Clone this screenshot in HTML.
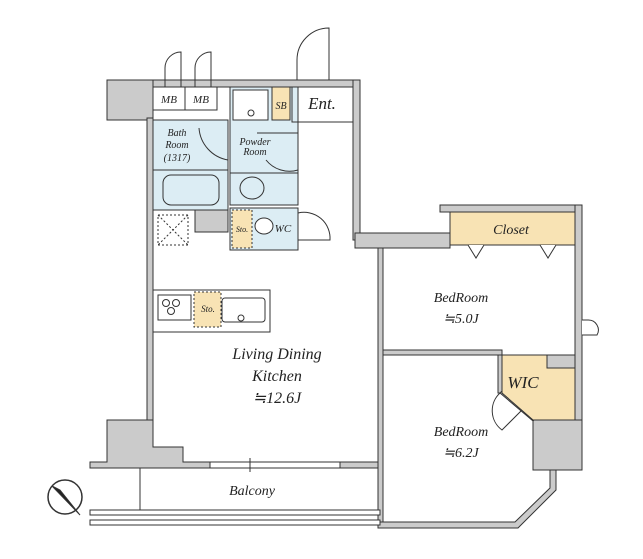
<!DOCTYPE html>
<html><head><style>body{margin:0;background:#fff}svg{display:block}text{font-family:"Liberation Serif",serif;font-style:italic;fill:#222}</style></head><body>
<svg width="643" height="559" viewBox="0 0 643 559" xmlns="http://www.w3.org/2000/svg">
<g stroke="#333" stroke-width="1" fill="#cbcbcb">
<rect x="107" y="80" width="46" height="40"/>
<rect x="153" y="80" width="207" height="7"/>
<rect x="353" y="80" width="7" height="160"/>
<rect x="147" y="118" width="6" height="302"/>
<path d="M107 420 H153 V447 H183 V462 H210 V468 H90 V462 H107 Z"/>
<rect x="340" y="462" width="40" height="6"/>
<rect x="355" y="233" width="95" height="15"/>
<rect x="440" y="205" width="142" height="7"/>
<rect x="575" y="205" width="7" height="215"/>
<rect x="533" y="420" width="49" height="50"/>
<rect x="547" y="355" width="28" height="13"/>
<rect x="195" y="210" width="33" height="22"/>
<rect x="378" y="248" width="5" height="280"/>
<rect x="383" y="350" width="119" height="5"/>
<rect x="498" y="355" width="4" height="38"/>
<path d="M550 470 H556 V490 L518 528 H378 V522 H515 L550 488 Z"/>
<path d="M500 393 L503 390 L536 418 L533 421 Z"/>
</g>
<g stroke="#333" stroke-width="1">
<rect x="153" y="87" width="32" height="23" fill="#fff"/>
<rect x="185" y="87" width="32" height="23" fill="#fff"/>
<rect x="153" y="120" width="75" height="90" fill="#dcedf4"/>
<line x1="153" y1="170" x2="228" y2="170"/>
<rect x="163" y="175" width="56" height="30" rx="8" fill="#dcedf4"/>
<rect x="230" y="87" width="68" height="118" fill="#dcedf4"/>
<rect x="233" y="90" width="35" height="30" fill="#fff"/>
<circle cx="251" cy="113" r="3" fill="#fff"/>
<line x1="230" y1="173" x2="298" y2="173"/>
<ellipse cx="252" cy="188" rx="12" ry="11" fill="#dcedf4"/>
<rect x="272" y="87" width="18" height="33" fill="#f8e3b4"/>
<rect x="292" y="87" width="61" height="35" fill="none"/>
<rect x="230" y="208" width="68" height="42" fill="#dcedf4"/>
<rect x="232" y="210" width="20" height="38" fill="#f8e3b4" stroke-dasharray="2,2"/>
<ellipse cx="264" cy="226" rx="9" ry="8" fill="#fff"/>
<rect x="450" y="212" width="125" height="33" fill="#f8e3b4"/>
<path d="M502 355 H547 V368 H575 V420 H533 L502 393 Z" fill="#f8e3b4"/>
<rect x="153" y="290" width="117" height="42" fill="#fff"/>
<rect x="158" y="295" width="33" height="25" fill="#fff"/>
<circle cx="166" cy="303" r="3.5" fill="none"/><circle cx="176" cy="303" r="3.5" fill="none"/><circle cx="171" cy="311" r="3.5" fill="none"/>
<rect x="194" y="292" width="27" height="35" fill="#f8e3b4" stroke-dasharray="2,2"/>
<rect x="222" y="298" width="43" height="24" rx="3" fill="#fff"/>
<circle cx="241" cy="318" r="3" fill="#fff"/>
<rect x="158" y="215" width="30" height="30" fill="none" stroke-dasharray="2,2"/>
<path d="M158 215 L188 245 M188 215 L158 245" fill="none" stroke-dasharray="2,2"/>
<line x1="140" y1="468" x2="140" y2="510"/>
<rect x="90" y="510" width="290" height="5" fill="#fff"/>
<rect x="90" y="520" width="290" height="5" fill="#fff"/>
<rect x="210" y="462" width="130" height="6" fill="#fff"/>
<line x1="250" y1="458" x2="250" y2="472"/>
<path d="M165 87 V68 A16 16 0 0 1 181 52 V87" fill="none"/>
<path d="M195 87 V68 A16 16 0 0 1 211 52 V87" fill="none"/>
<path d="M297 80 V60 A32 32 0 0 1 329 28 V80" fill="none"/>
<path d="M199 128 A35 35 0 0 0 228 160" fill="none"/>
<path d="M257 133 H298 M266 160 A30 30 0 0 0 298 170" fill="none"/>
<path d="M298 213 A26 26 0 0 1 330 240 H298" fill="none"/>
<path d="M468 245 L476 258 L484 245 M540 245 L548 258 L556 245" fill="#fff"/>
<path d="M582 320 H588 A10 10 0 0 1 597 335 H582" fill="#fff"/>
<path d="M500 393 A24 24 0 0 0 502 430 L522 410" fill="none"/>
<circle cx="65" cy="497" r="17" fill="#fff" stroke-width="1.5"/>
<path d="M52 486 L80 515 L60 490 Z" fill="#222"/>
</g>
<text x="169" y="103" font-size="11" text-anchor="middle">MB</text>
<text x="201" y="103" font-size="11" text-anchor="middle">MB</text>
<text x="281" y="109" font-size="10" text-anchor="middle" fill="#555">SB</text>
<text x="322" y="109" font-size="17" text-anchor="middle">Ent.</text>
<text x="177" y="136" font-size="10" text-anchor="middle" fill="#555">Bath</text>
<text x="177" y="148" font-size="10" text-anchor="middle" fill="#555">Room</text>
<text x="177" y="161" font-size="10" text-anchor="middle" fill="#555">(1317)</text>
<text x="255" y="145" font-size="10" text-anchor="middle" fill="#555">Powder</text>
<text x="255" y="155" font-size="10" text-anchor="middle" fill="#555">Room</text>
<text x="283" y="232" font-size="11" text-anchor="middle">WC</text>
<text x="242" y="232" font-size="8" text-anchor="middle" fill="#555">Sto.</text>
<text x="208" y="312" font-size="9" text-anchor="middle" fill="#555">Sto.</text>
<text x="277" y="359" font-size="16" text-anchor="middle">Living Dining</text>
<text x="277" y="381" font-size="16" text-anchor="middle">Kitchen</text>
<text x="277" y="403" font-size="16" text-anchor="middle" font-style="normal">≒12.6J</text>
<text x="252" y="495" font-size="14" text-anchor="middle">Balcony</text>
<text x="511" y="234" font-size="14" text-anchor="middle">Closet</text>
<text x="461" y="302" font-size="14" text-anchor="middle">BedRoom</text>
<text x="461" y="323" font-size="14" text-anchor="middle" font-style="normal">≒5.0J</text>
<text x="523" y="388" font-size="17" text-anchor="middle">WIC</text>
<text x="461" y="436" font-size="14" text-anchor="middle">BedRoom</text>
<text x="461" y="457" font-size="14" text-anchor="middle" font-style="normal">≒6.2J</text>
</svg>
</body></html>
